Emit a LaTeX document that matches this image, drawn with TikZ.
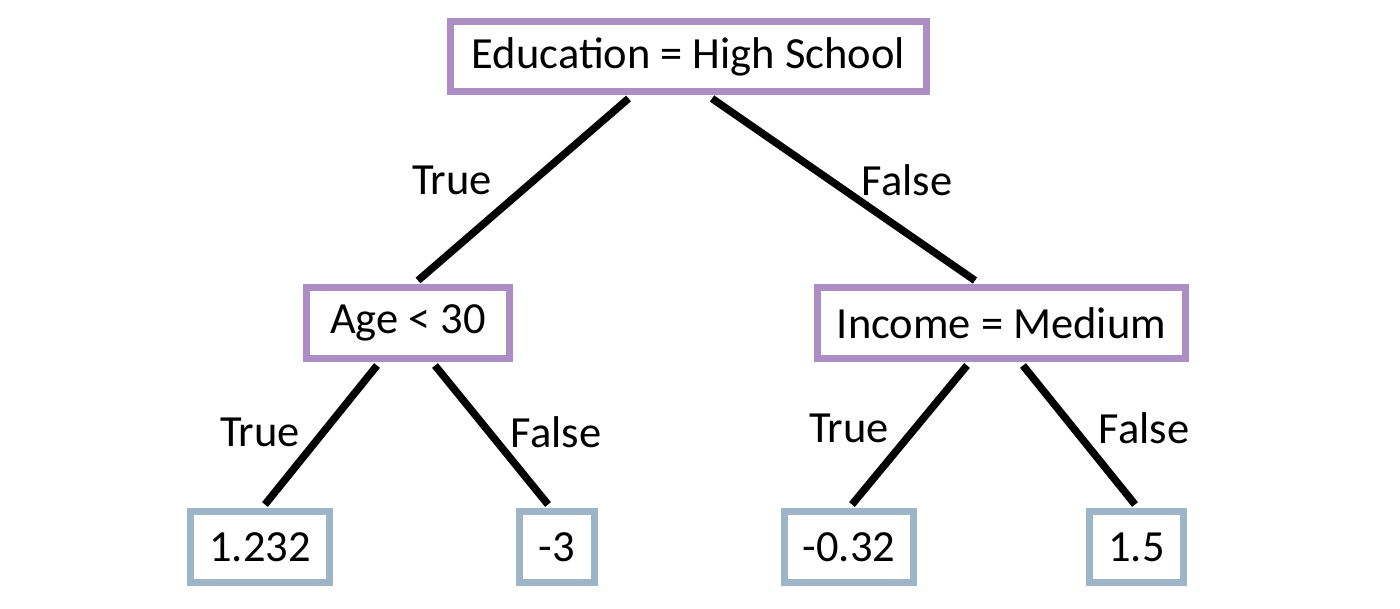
\documentclass[tikz,border=0pt]{standalone}
\usepackage{fontspec}
\setmainfont{Carlito}
\definecolor{splitc}{RGB}{172,141,196}
\definecolor{leafc}{RGB}{158,180,199}
\begin{document}
\begin{tikzpicture}[x=1pt,y=-1pt,
  lbl/.style={font=\fontsize{44.5}{52}\selectfont, inner sep=0pt},
  split/.style={draw=splitc, line width=7pt, fill=white, inner sep=0pt, minimum height=70pt, font=\fontsize{44.5}{52}\selectfont},
  leaf/.style={draw=leafc, line width=7pt, fill=white, inner sep=0pt, minimum height=71pt, font=\fontsize{44.5}{52}\selectfont},
  edge/.style={draw=black, line width=7.5pt}]
\useasboundingbox[fill=white] (0,0) rectangle (1400,608);
\node[split, minimum width=476pt] (root) at (688.5,56.5) {Education = High School};
\node[split, minimum width=203pt, minimum height=71pt] (age) at (408,323) {Age < 30};
\node[split, minimum width=368pt, minimum height=71pt] (inc) at (1001.5,323) {Income = Medium};
\node[leaf, minimum width=139pt] (l1) at (260,547) {1.232};
\node[leaf, minimum width=75pt] (l2) at (557,547) {-3};
\node[leaf, minimum width=129pt] (l3) at (849,547) {-0.32};
\node[leaf, minimum width=94pt] (l4) at (1136.5,547) {1.5};
\draw[edge] ([xshift=-60pt,yshift=-3.5pt]root.south) -- ([xshift=10pt,yshift=3.5pt]age.north);
\draw[edge] ([xshift=23.5pt,yshift=-3.5pt]root.south) -- ([xshift=-26.5pt,yshift=3.5pt]inc.north);
\draw[edge] ([xshift=-31pt,yshift=-3.5pt]age.south) -- ([xshift=5pt,yshift=3.5pt]l1.north);
\draw[edge] ([xshift=27pt,yshift=-3.5pt]age.south) -- ([xshift=-9pt,yshift=3.5pt]l2.north);
\draw[edge] ([xshift=-34.5pt,yshift=-3.5pt]inc.south) -- ([xshift=3pt,yshift=3.5pt]l3.north);
\draw[edge] ([xshift=21.5pt,yshift=-3.5pt]inc.south) -- ([xshift=-1.5pt,yshift=3.5pt]l4.north);
\node[lbl] (t1) at (452,180) {True};
\node[lbl] (f1) at (907,180) {False};
\node[lbl] (t2) at (260,432) {True};
\node[lbl] (f2) at (556,432) {False};
\node[lbl] (t3) at (849,428) {True};
\node[lbl] (f3) at (1144,428) {False};
\end{tikzpicture}
\end{document}
